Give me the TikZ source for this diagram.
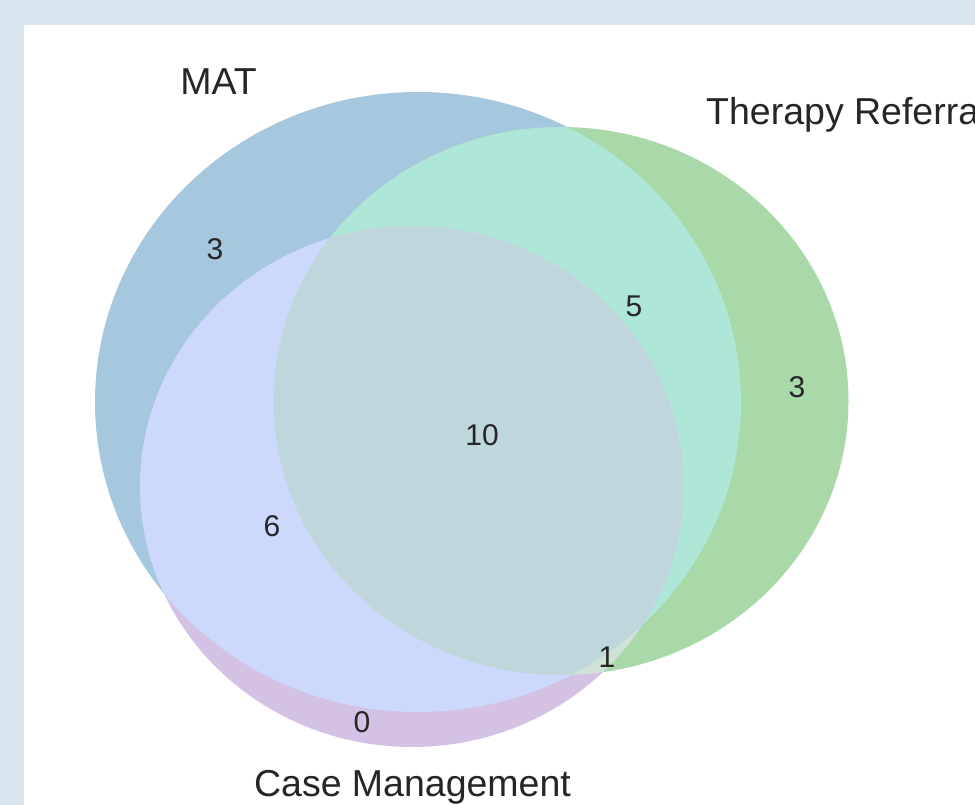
\documentclass[tikz,border=0pt]{standalone}
\usepackage{fontspec}
\setmainfont{Liberation Sans}
\definecolor{bgpanel}{HTML}{D9E6EF}
\definecolor{matonly}{HTML}{A6C8DF}
\definecolor{tronly}{HTML}{A9D9A9}
\definecolor{cmonly}{HTML}{D4C2E5}
\definecolor{mattr}{HTML}{AEE7D8}
\definecolor{matcm}{HTML}{CCD9FC}
\definecolor{trcm}{HTML}{CFE2D5}
\definecolor{allthree}{HTML}{BED6DC}
\definecolor{txt}{HTML}{262626}
\tikzset{
  setlabel/.style={font=\fontsize{37.5}{42}\selectfont, text=txt, inner sep=0pt},
  countlabel/.style={font=\fontsize{30}{34}\selectfont, text=txt, inner sep=0pt},
}
\newcommand{\matpath}{(418,402) ellipse [x radius=323pt, y radius=310pt]}
\newcommand{\trpath}{(561,401) ellipse [x radius=287.5pt, y radius=274pt]}
\newcommand{\cmpath}{(412,486.5) ellipse [x radius=272pt, y radius=260.5pt]}
\begin{document}
\begin{tikzpicture}[x=1pt,y=-1pt]
\useasboundingbox (0,0) rectangle (975,805);
\clip (0,0) rectangle (975,805);
\fill[bgpanel] (0,0) rectangle (975,805);
\fill[white] (24,25) rectangle (975,805);
% single sets
\fill[matonly] \matpath;
\fill[tronly] \trpath;
\fill[cmonly] \cmpath;
% pairwise
\begin{scope}
  \clip \matpath;
  \fill[mattr] \trpath;
  \fill[matcm] \cmpath;
\end{scope}
\begin{scope}
  \clip \trpath;
  \begin{scope}
    \clip \cmpath;
    \fill[trcm] \trpath;
  \end{scope}
\end{scope}
\begin{scope}
  \clip \matpath;
  \clip \trpath;
  \fill[allthree] \cmpath;
\end{scope}
% set labels
\node[setlabel] (lmat) at (218.5,82) {MAT};
\node[setlabel, anchor=west] (ltr) at (706,115) {Therapy Referral};
\node[setlabel] (lcm) at (412.5,787) {Case Management};
% counts
\node[countlabel] (c100) at (215,249) {3};
\node[countlabel] (c110) at (634,306) {5};
\node[countlabel] (c010) at (797,387) {3};
\node[countlabel] (c111) at (482,435) {10};
\node[countlabel] (c101) at (272,526) {6};
\node[countlabel] (c011) at (607,657) {1};
\node[countlabel] (c001) at (362,722) {0};
\end{tikzpicture}
\end{document}
